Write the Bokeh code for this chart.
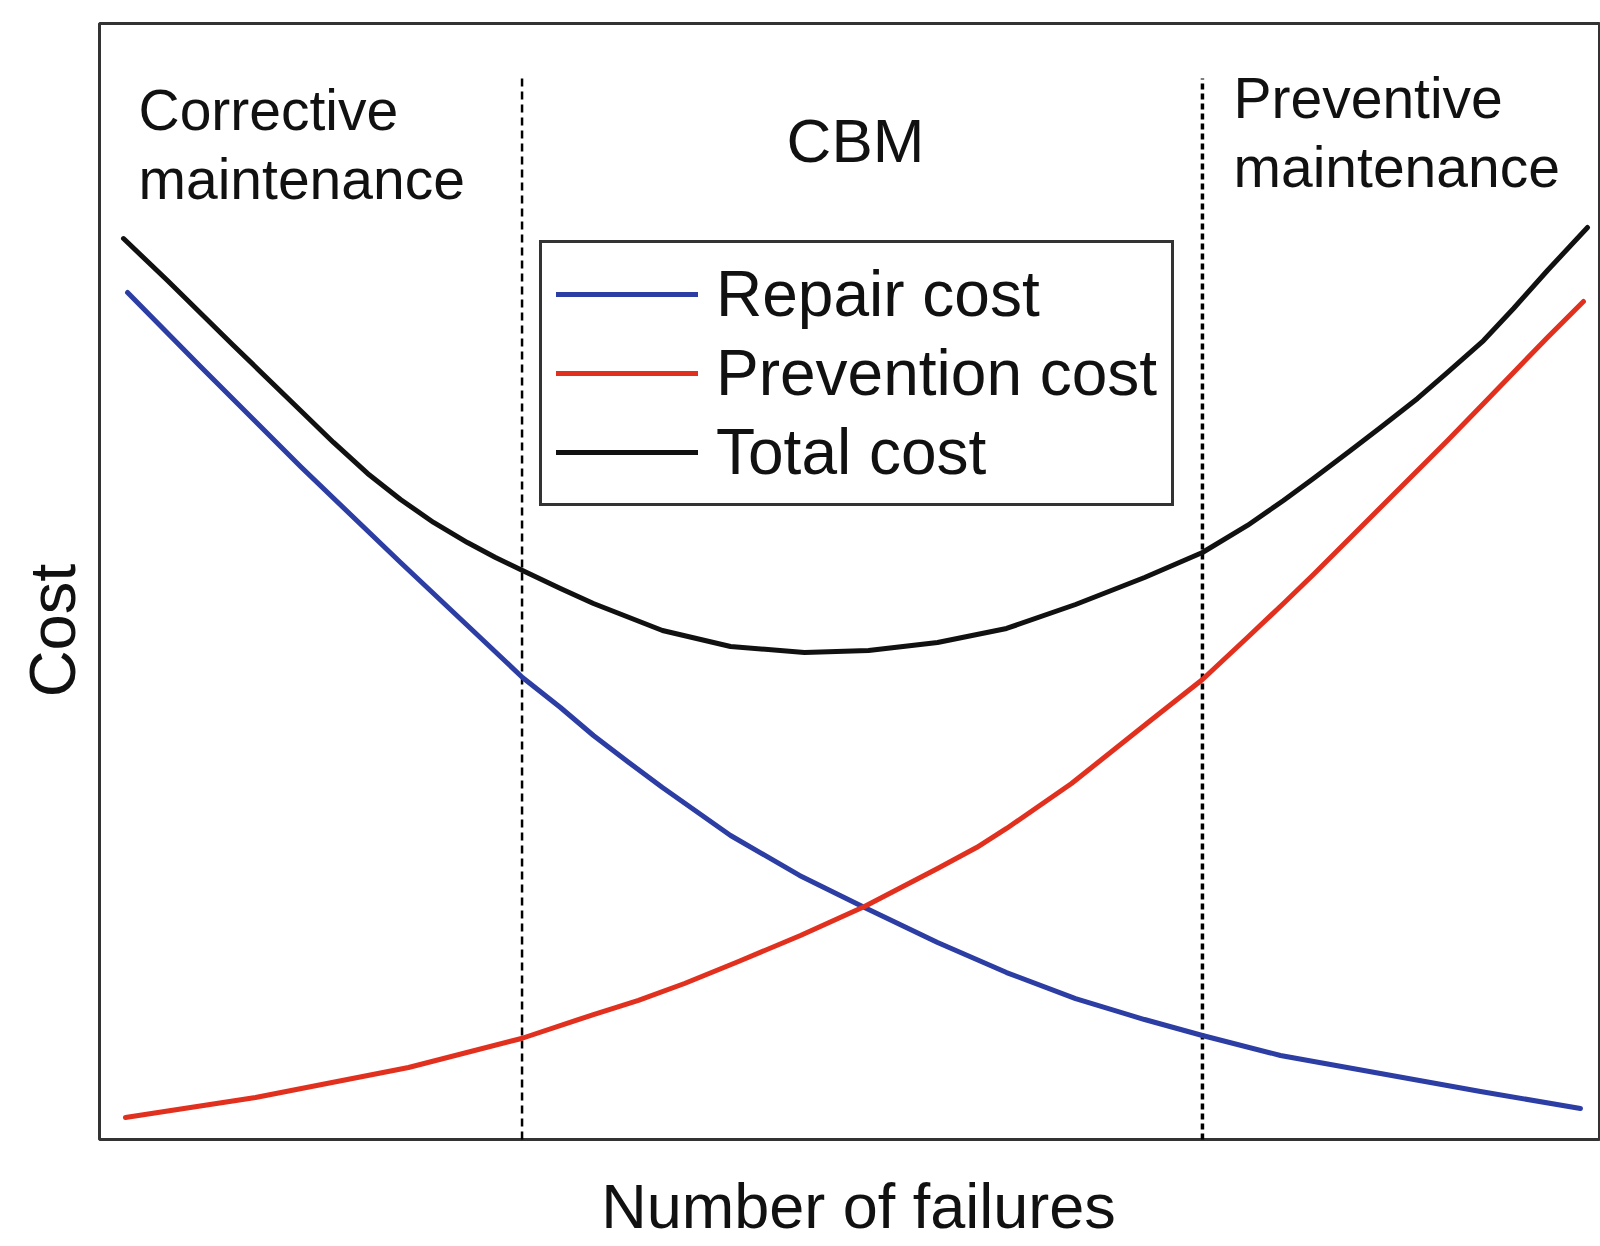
from bokeh.plotting import figure
from bokeh.models import Range1d, Legend, LegendItem
from bokeh.core.properties import value
from bokeh.embed import file_html
from bokeh.resources import INLINE
import math

# ---- data (schematic values; x = number of failures, y = cost) ----
failures_total = [1.6, 4.53, 8.93, 13.4, 15.6, 17.87, 20.07, 22.27, 24.53, 26.4, 28.2,
                  30.73, 32.93, 37.53, 42.07, 47.0, 51.27, 55.87, 60.47, 65.07, 69.67,
                  73.53, 76.53, 78.93, 80.93, 83.4, 85.4, 87.87, 89.87, 92.27, 94.27,
                  96.53, 99.2]
total_cost = [80.73, 76.97, 71.15, 65.32, 62.46, 59.68, 57.35, 55.29, 53.49, 52.15, 50.99,
              49.37, 48.03, 45.61, 44.18, 43.64, 43.82, 44.53, 45.79, 47.94, 50.36,
              52.6, 55.02, 57.26, 59.23, 61.74, 63.8, 66.4, 68.73, 71.59, 74.46,
              77.87, 81.72]

failures_repair = [1.87, 6.73, 13.4, 20.07, 24.53, 28.2, 30.73, 32.93, 35.2, 37.53,
                   42.07, 46.67, 51.0, 55.87, 60.47, 65.07, 69.67, 73.53, 78.73, 85.4,
                   92.07, 98.73]
repair_cost = [75.9, 69.27, 60.3, 51.7, 46.06, 41.4, 38.71, 36.2, 33.87, 31.54,
               27.24, 23.66, 20.79, 17.65, 14.96, 12.63, 10.75, 9.32, 7.53, 5.91,
               4.3, 2.78]

failures_prevention = [1.73, 10.4, 20.6, 28.13, 32.93, 35.93, 39.0, 42.6, 46.73, 51.0,
                       55.87, 58.47, 60.47, 64.8, 70.07, 73.53, 76.53, 78.93, 80.93,
                       83.4, 85.4, 87.87, 89.87, 92.27, 94.27, 96.53, 98.93]
prevention_cost = [1.97, 3.76, 6.45, 9.05, 11.2, 12.46, 13.98, 15.95, 18.28, 20.88,
                   24.28, 26.16, 27.87, 31.9, 37.54, 41.22, 44.98, 48.03, 50.63,
                   53.94, 56.63, 59.95, 62.63, 65.95, 68.73, 71.86, 75.09]

boundaries = [28.17, 73.53]          # CBM window limits
boundary_top = 95.07

series_names = ["Repair cost", "Prevention cost", "Total cost"]
region_names = ["Corrective\nmaintenance", "CBM", "Preventive\nmaintenance"]
x_title = "Number of failures"
y_title = "Cost"

# axes box (data space)
X0, X1, Y0, Y1 = 0, 100, 0, 100

FONT = "Liberation Sans"
BLUE = "#2C3DA3"
RED = "#E2301F"
BLACK = "#111111"
TXT = "#111111"

p = figure(width=1600, height=1246, output_backend="svg", toolbar_location=None,
           x_range=Range1d(-6.6, 100.0667), y_range=Range1d(-9.588, 102.061),
           x_axis_location=None, y_axis_location=None,
           min_border=0, min_border_left=0, min_border_right=0,
           min_border_top=0, min_border_bottom=0)
p.xgrid.visible = False
p.ygrid.visible = False
p.outline_line_color = None
p.background_fill_color = "white"
p.border_fill_color = "white"

# axes box
p.quad(left=[X0], right=[X1], bottom=[Y0], top=[Y1], fill_color=None,
       line_color="#333333", line_width=3)

# CBM boundaries (dashed)
p.segment(x0=[boundaries[0]], y0=[Y0], x1=[boundaries[0]], y1=[boundary_top],
          line_color="black", line_width=2.5, line_dash="8 5")
p.segment(x0=[boundaries[1]], y0=[Y0], x1=[boundaries[1]], y1=[boundary_top],
          line_color="black", line_width=3.5, line_dash="6 4")

r_rep = p.line(failures_repair, repair_cost, line_color=BLUE, line_width=5,
               line_join="round", line_cap="round")
r_prev = p.line(failures_prevention, prevention_cost, line_color=RED, line_width=5,
                line_join="round", line_cap="round")
r_tot = p.line(failures_total, total_cost, line_color=BLACK, line_width=5,
               line_join="round", line_cap="round")

legend = Legend(items=[LegendItem(label=series_names[0], renderers=[r_rep]),
                       LegendItem(label=series_names[1], renderers=[r_prev]),
                       LegendItem(label=series_names[2], renderers=[r_tot])],
                location=(539, 740), glyph_width=142, glyph_height=40,
                label_standoff=18, padding=14, spacing=5, margin=0,
                label_text_font=FONT, label_text_font_size="64px",
                label_text_color=TXT,
                border_line_color="#333333", border_line_width=3, border_line_alpha=1,
                background_fill_color="white", background_fill_alpha=1)
p.add_layout(legend, "center")

# region labels (text is centred vertically on the given y)
c1, c2 = region_names[0].split("\n")
p1, p2 = region_names[2].split("\n")
p.text(x=[2.6, 2.6, 75.6, 75.6], y=[92.25, 86.06, 93.3, 87.15], text=[c1, c2, p1, p2],
       text_font=value(FONT), text_font_size="57px", text_align="left",
       text_baseline="alphabetic", text_color=TXT)
p.text(x=[50.4], y=[89.55], text=[region_names[1]],
       text_font=value(FONT), text_font_size="62px", text_align="center",
       text_baseline="alphabetic", text_color=TXT)

# axis titles
p.text(x=[50.6], y=[-6.0], text=[x_title], text_font=value(FONT),
       text_font_size="63px", text_align="center", text_baseline="alphabetic",
       text_color=TXT)
p.text(x=[-3.13], y=[45.61], text=[y_title], angle=math.pi / 2, text_font=value(FONT),
       text_font_size="65px", text_align="center", text_baseline="alphabetic",
       text_color=TXT)

open("out.html", "w").write(file_html(p, INLINE))
